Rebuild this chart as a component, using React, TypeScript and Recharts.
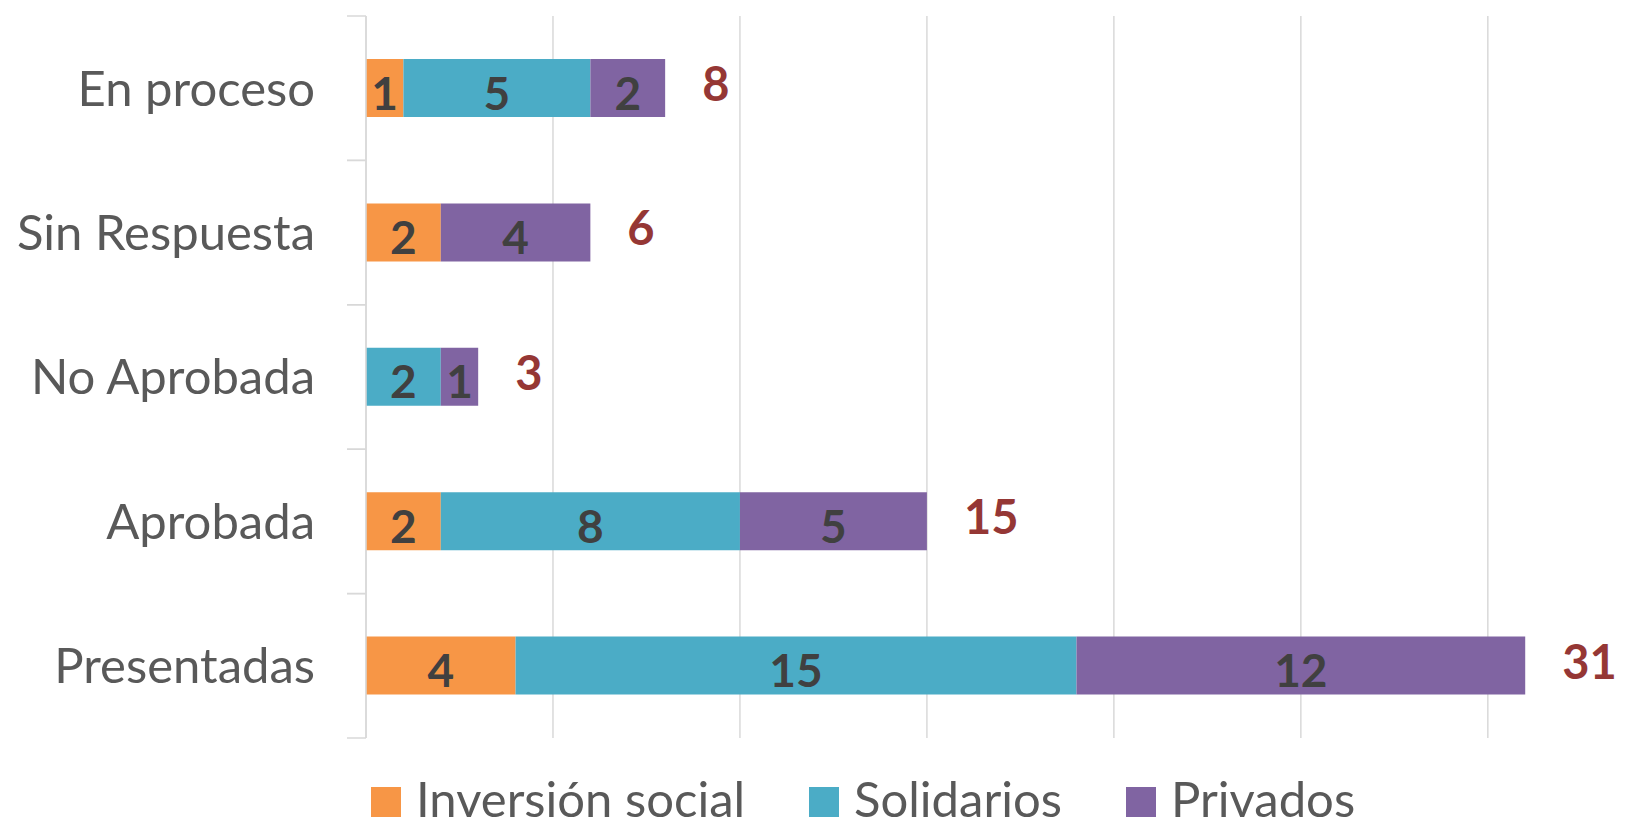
import React from 'react';
import { BarChart, Bar, XAxis, YAxis, CartesianGrid, Legend, LabelList } from 'recharts';

const categories = ['En proceso', 'Sin Respuesta', 'No Aprobada', 'Aprobada', 'Presentadas'];
const inversionSocial = [1, 2, 0, 2, 4];
const solidarios = [5, 0, 2, 8, 15];
const privados = [2, 4, 1, 5, 12];
const totals = [8, 6, 3, 15, 31];
const xTicks = [0, 5, 10, 15, 20, 25, 30];
const xMax = 33;

const series = [
  { key: 'inversion', name: 'Inversión social', color: '#F79646' },
  { key: 'solidarios', name: 'Solidarios', color: '#4BACC6' },
  { key: 'privados', name: 'Privados', color: '#8064A2' },
];

const data = categories.map((category, i) => ({
  category,
  inversion: inversionSocial[i],
  solidarios: solidarios[i],
  privados: privados[i],
  total: totals[i],
}));

const FONT = 'Lato, "Open Sans", sans-serif';
const GRID = '#D9D9D9';
const TICK_MARGIN = 51;
const TICK_LEN = 19;

// category label plus Excel-style tick marks on the band edges
const CategoryTick = (props: any) => {
  const { x, y, payload } = props;
  const half = payload && payload.offset ? payload.offset : 0;
  const ax = x + TICK_MARGIN;
  return (
    <g>
      <text x={x} y={y} dy="0.355em" textAnchor="end" fill="#595959" fontSize={49} fontFamily={FONT}>
        {payload.value}
      </text>
      {half > 0 && (
        <>
          <line x1={ax - TICK_LEN} x2={ax} y1={y - half} y2={y - half} stroke={GRID} strokeWidth={1.5} />
          <line x1={ax - TICK_LEN} x2={ax} y1={y + half} y2={y + half} stroke={GRID} strokeWidth={1.5} />
        </>
      )}
    </g>
  );
};

// value inside each segment, zeros are skipped
const InnerLabel = (props: any) => {
  const { x, y, width, height, value } = props;
  if (!value) return null;
  return (
    <text
      x={x + width / 2}
      y={y + height / 2 + 4}
      textAnchor="middle"
      dominantBaseline="central"
      fontFamily={FONT}
      fontWeight={700}
      fontSize={46}
      fill="#404040"
    >
      {value}
    </text>
  );
};

// total to the right of the stack
const TotalLabel = (props: any) => {
  const { x, y, width, height, value } = props;
  return (
    <text
      x={x + width + 37}
      y={y + height / 2 - 5}
      textAnchor="start"
      dominantBaseline="central"
      fontFamily={FONT}
      fontWeight={700}
      fontSize={47}
      fill="#953735"
    >
      {value}
    </text>
  );
};

const renderLegend = () => (
  <div
    style={{
      display: 'flex',
      paddingLeft: 371,
      paddingTop: 36,
      fontFamily: FONT,
      fontSize: 49,
      color: '#595959',
      lineHeight: 1,
      whiteSpace: 'nowrap',
    }}
  >
    {series.map((s) => (
      <span key={s.key} style={{ display: 'inline-flex', alignItems: 'baseline', marginRight: 64 }}>
        <span style={{ display: 'inline-block', width: 30, height: 30, background: s.color, marginRight: 15 }} />
        {s.name}
      </span>
    ))}
  </div>
);

// vertical grid only at the x ticks
const gridX = ({ offset }: any) => xTicks.map((t) => offset.left + (t / xMax) * offset.width);

export default function App() {
  return (
    <div style={{ position: 'absolute', left: 0, top: 0, background: '#fff' }}>
      <BarChart
        width={1651}
        height={826}
        layout="vertical"
        data={data}
        margin={{ top: 16, right: 51, left: 0, bottom: 0 }}
      >
        <CartesianGrid
          horizontal={false}
          stroke={GRID}
          strokeWidth={1.5}
          verticalCoordinatesGenerator={gridX}
        />
        <XAxis type="number" domain={[0, xMax]} ticks={xTicks} hide allowDataOverflow />
        <YAxis
          type="category"
          dataKey="category"
          width={366}
          axisLine={{ stroke: GRID, strokeWidth: 1.5 }}
          tickLine={false}
          tickSize={0}
          tickMargin={TICK_MARGIN}
          tick={<CategoryTick />}
        />
        <Legend verticalAlign="bottom" height={88} content={renderLegend} />
        {series.map((s) => (
          <Bar
            key={s.key}
            dataKey={s.key}
            name={s.name}
            stackId="a"
            fill={s.color}
            barSize={58}
            isAnimationActive={false}
          >
            <LabelList dataKey={s.key} content={InnerLabel} />
            {s.key === 'privados' && <LabelList dataKey="total" content={TotalLabel} />}
          </Bar>
        ))}
      </BarChart>
    </div>
  );
}
